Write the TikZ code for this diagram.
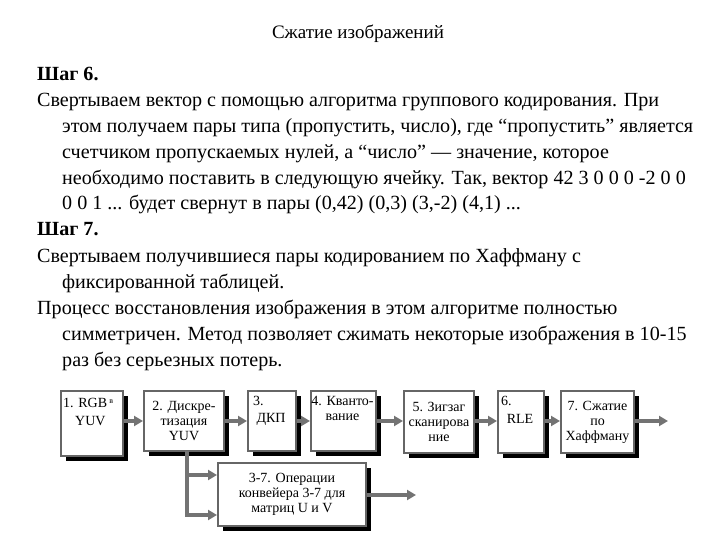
\documentclass[tikz,border=0pt]{standalone}
\usepackage{fontspec}
\setmainfont{Liberation Serif}
\usetikzlibrary{arrows.meta}
\begin{document}
\begin{tikzpicture}[x=1pt,y=-1pt,
  ln/.style={anchor=base west,inner sep=0pt,font=\fontsize{20.1}{22}\selectfont},
  bf/.style={font=\fontsize{14}{15}\selectfont},
  bx/.style={draw=black!60,line width=2pt,fill=white,inner sep=0pt,align=center,bf},
  shd/.style={fill=black},
  ar/.style={draw=black!55,line width=4pt,-{Triangle[length=9pt,width=10pt]}}]
\useasboundingbox (0,0) rectangle (720,540);
\node[anchor=base,inner sep=0pt,font=\fontsize{19}{20}\selectfont] (t) at (358,39) {Сжатие изображений};
\node[ln] (l1) at (37,81) {\textbf{Шаг 6.}};
\node[ln] (l2) at (37,107) {Свертываем вектор с помощью алгоритма группового кодирования. При};
\node[ln] (l3) at (62,133) {этом получаем пары типа (пропустить, число), где “пропустить” является};
\node[ln] (l4) at (62,159) {счетчиком пропускаемых нулей, а “число” — значение, которое};
\node[ln] (l5) at (62,185) {необходимо поставить в следующую ячейку. Так, вектор 42 3 0 0 0 -2 0 0};
\node[ln] (l6) at (62,210) {0 0 1 ... будет свернут в пары (0,42) (0,3) (3,-2) (4,1) ...};
\node[ln] (l7) at (37,236) {\textbf{Шаг 7.}};
\node[ln] (l8) at (37,262) {Свертываем получившиеся пары кодированием по Хаффману с};
\node[ln] (l9) at (62,288) {фиксированной таблицей.};
\node[ln] (l10) at (37,314) {Процесс восстановления изображения в этом алгоритме полностью};
\node[ln] (l11) at (62,340) {симметричен. Метод позволяет сжимать некоторые изображения в 10-15};
\node[ln] (l12) at (62,366) {раз без серьезных потерь.};
% shadows
\foreach \a/\b/\c/\d in {60/390/122/455,143/390/223/450,247/390/295/450,310/390/375/450,403/390/473/452,497/390/543/452,560/390/633/452,217/462/365/525}
  \fill[shd] (\a+6,\b+6) rectangle (\c+6,\d+6);
\node[bx,minimum width=62pt,minimum height=65pt,anchor=north west] (b1) at (60,390) {};
\node[anchor=north west,inner sep=0pt,bf] (b1t) at (63,398) {1. RGB\,\raisebox{4pt}{\footnotesize в}};
\node[anchor=north west,inner sep=0pt,bf] (b1u) at (75,416) {YUV};
\node[bx,minimum width=80pt,minimum height=60pt,anchor=north west] (b2) at (143,390) {2. Дискре-\\тизация\\YUV};
\node[bx,minimum width=48pt,minimum height=60pt,anchor=north west] (b3) at (247,390) {};
\node[anchor=north west,inner sep=0pt,bf] (b3t) at (253,396) {3.};
\node[anchor=north,inner sep=0pt,bf] (b3u) at (271,413) {ДКП};
\node[bx,minimum width=65pt,minimum height=60pt,anchor=north west] (b4) at (310,390) {};
\node[anchor=north,inner sep=0pt,align=center,bf] (b4t) at (342.5,396) {4. Кванто-\\вание};
\node[bx,minimum width=70pt,minimum height=62pt,anchor=north west] (b5) at (403,390) {5. Зигзаг\\сканирова\\ние};
\node[bx,minimum width=46pt,minimum height=62pt,anchor=north west] (b6) at (497,390) {};
\node[anchor=north west,inner sep=0pt,bf] (b6t) at (501,396) {6.};
\node[anchor=north,inner sep=0pt,bf] (b6u) at (520,414) {RLE};
\node[bx,minimum width=73pt,minimum height=62pt,anchor=north west] (b7) at (560,390) {7. Сжатие\\по\\Хаффману};
\node[bx,minimum width=148pt,minimum height=63pt,anchor=north west] (b8) at (217,462) {3-7. Операции\\конвейера 3-7 для\\матриц U и V};
\coordinate (e7) at (668,421);
\coordinate (e8) at (416,495);
\coordinate (s2) at (187,451);
\coordinate (k2) at (187,515);
\draw[ar] (b1.east|-0,421) -- (b2.west|-0,421);
\draw[ar] (b2.east|-0,421) -- (b3.west|-0,421);
\draw[ar] (b3.east|-0,421) -- (b4.west|-0,421);
\draw[ar] (b4.east|-0,421) -- (b5.west|-0,421);
\draw[ar] (b5.east|-0,421) -- (b6.west|-0,421);
\draw[ar] (b6.east|-0,421) -- (b7.west|-0,421);
\draw[ar] (b7.east|-0,421) -- (e7);
\draw[ar] (b8.east|-e8) -- (e8);
\draw[draw=black!55,line width=4pt] (s2) -- (k2);
\draw[ar] (185,475) -- (b8.west|-0,475);
\draw[ar] (185,515) -- (b8.west|-k2);
\end{tikzpicture}
\end{document}
